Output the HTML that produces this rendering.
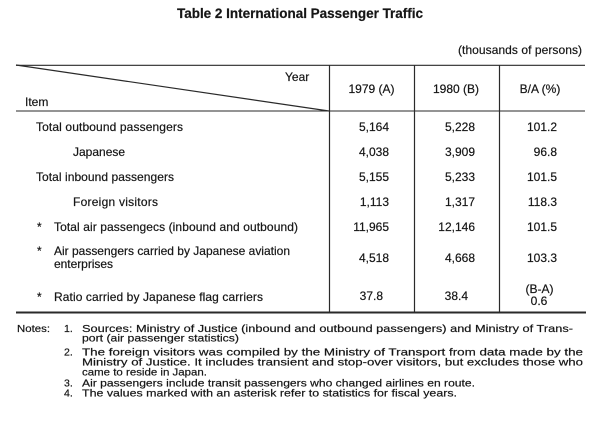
<!DOCTYPE html>
<html><head><meta charset="utf-8"><style>
html,body{margin:0;padding:0;background:#fff;}
svg{display:block;}
text{font-family:"Liberation Sans",Arial,sans-serif;fill:#161616;stroke:#161616;stroke-width:0.2;}
.t{font-size:12px;}
.n{font-size:10.5px;}
</style></head><body>
<svg width="600" height="421" viewBox="0 0 600 421" xmlns="http://www.w3.org/2000/svg">
<rect width="600" height="421" fill="#fff"/>
<text x="177" y="18" style="font-size:13.5px;font-weight:bold" textLength="246" lengthAdjust="spacing">Table 2  International Passenger Traffic</text>
<text class="t" x="458" y="54" textLength="124" lengthAdjust="spacing">(thousands of persons)</text>

<g stroke="#2a2a2a" fill="none">
<line x1="16" y1="65.3" x2="585" y2="65.3" stroke-width="1.2"/>
<line x1="16" y1="111" x2="585" y2="111" stroke-width="1.1"/>
<line x1="16" y1="312.5" x2="586" y2="312.5" stroke-width="2"/>
<line x1="16" y1="65" x2="329" y2="111" stroke-width="1.2"/>
<line x1="329.5" y1="65" x2="329.5" y2="313" stroke-width="1.2"/>
<line x1="414.5" y1="65" x2="414.5" y2="313" stroke-width="1.2"/>
<line x1="499.5" y1="65" x2="499.5" y2="313" stroke-width="1.2"/>
</g>

<text class="t" x="285" y="81">Year</text>
<text class="t" x="25" y="106">Item</text>
<text class="t" x="371.5" y="93" text-anchor="middle">1979 (A)</text>
<text class="t" x="456" y="93" text-anchor="middle">1980 (B)</text>
<text class="t" x="540" y="93" text-anchor="middle">B/A (%)</text>

<text class="t" x="36" y="131" textLength="147" lengthAdjust="spacing">Total outbound passengers</text>
<text class="t" x="73" y="156">Japanese</text>
<text class="t" x="36" y="181" textLength="138" lengthAdjust="spacing">Total inbound passengers</text>
<text class="t" x="73" y="206" textLength="85" lengthAdjust="spacing">Foreign visitors</text>
<text class="t" x="37" y="231">*</text>
<text class="t" x="54" y="231" textLength="244" lengthAdjust="spacing">Total air passengecs (inbound and outbound)</text>
<text class="t" x="37" y="255">*</text>
<text class="t" x="54" y="255" textLength="236" lengthAdjust="spacing">Air passengers carried by Japanese aviation</text>
<text class="t" x="54" y="268" textLength="59" lengthAdjust="spacing">enterprises</text>
<text class="t" x="37" y="301">*</text>
<text class="t" x="54" y="301" textLength="209" lengthAdjust="spacing">Ratio carried by Japanese flag carriers</text>

<g text-anchor="end">
<text class="t" x="389" y="131">5,164</text>
<text class="t" x="475" y="131">5,228</text>
<text class="t" x="557" y="131">101.2</text>
<text class="t" x="389" y="156">4,038</text>
<text class="t" x="475" y="156">3,909</text>
<text class="t" x="557" y="156">96.8</text>
<text class="t" x="389" y="181">5,155</text>
<text class="t" x="475" y="181">5,233</text>
<text class="t" x="557" y="181">101.5</text>
<text class="t" x="389" y="206">1,113</text>
<text class="t" x="475" y="206">1,317</text>
<text class="t" x="557" y="206">118.3</text>
<text class="t" x="389" y="231">11,965</text>
<text class="t" x="475" y="231">12,146</text>
<text class="t" x="557" y="231">101.5</text>
<text class="t" x="389" y="262">4,518</text>
<text class="t" x="475" y="262">4,668</text>
<text class="t" x="557" y="262">103.3</text>
<text class="t" x="383" y="300">37.8</text>
<text class="t" x="468" y="300">38.4</text>
</g>
<text class="t" x="539.5" y="293" text-anchor="middle">(B-A)</text>
<text class="t" x="539" y="305" text-anchor="middle">0.6</text>

<text class="n" x="17" y="332" textLength="33" lengthAdjust="spacingAndGlyphs">Notes:</text>
<text class="n" x="64" y="332">1.</text>
<text class="n" x="82" y="332" textLength="491" lengthAdjust="spacingAndGlyphs">Sources: Ministry of Justice (inbound and outbound passengers) and Ministry of Trans-</text>
<text class="n" x="82" y="341.5" textLength="157" lengthAdjust="spacingAndGlyphs">port (air passenger statistics)</text>
<text class="n" x="64" y="355.5">2.</text>
<text class="n" x="82" y="355.5" textLength="501" lengthAdjust="spacingAndGlyphs">The foreign visitors was compiled by the Ministry of Transport from data made by the</text>
<text class="n" x="82" y="365.5" textLength="501" lengthAdjust="spacingAndGlyphs">Ministry of Justice. It includes transient and stop-over visitors, but excludes those who</text>
<text class="n" x="82" y="375.5" textLength="125" lengthAdjust="spacingAndGlyphs">came to reside in Japan.</text>
<text class="n" x="64" y="386.5">3.</text>
<text class="n" x="82" y="386.5" textLength="393" lengthAdjust="spacingAndGlyphs">Air passengers include transit passengers who changed airlines en route.</text>
<text class="n" x="64" y="396.5">4.</text>
<text class="n" x="82" y="396.5" textLength="375" lengthAdjust="spacingAndGlyphs">The values marked with an asterisk refer to statistics for fiscal years.</text>
</svg>
</body></html>
